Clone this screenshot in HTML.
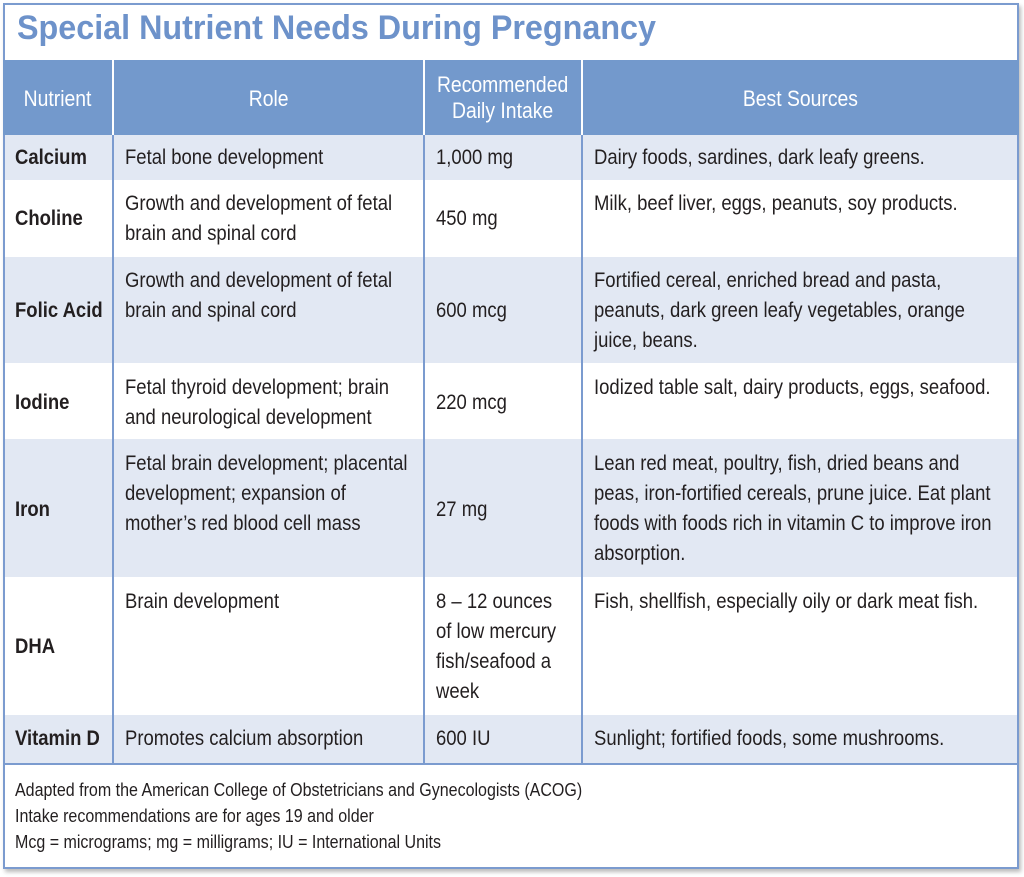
<!DOCTYPE html>
<html><head><meta charset="utf-8"><style>
body{margin:0;width:1024px;height:877px;background:#fff;position:relative;overflow:hidden;font-family:"Liberation Sans",sans-serif;color:#231f20}
.a{position:absolute;box-sizing:border-box}
.t{font-size:21px;line-height:30px;white-space:nowrap;transform:scaleX(0.88);transform-origin:left top}
.b{font-weight:bold}
.h{color:#fff;font-size:22px;line-height:26px;text-align:center;white-space:nowrap}
.h span{display:inline-block;transform:scaleX(0.88)}
</style></head><body>
<div class="a" style="left:3px;top:3px;width:1016px;height:866px;border:2px solid #7b9bcf;box-shadow:2px 3px 4px #bbb"></div>
<div class="a b" style="left:17px;top:9px;font-size:34px;color:#6d92ca;transform:scaleX(0.95);transform-origin:left;white-space:nowrap">Special Nutrient Needs During Pregnancy</div>
<div class="a" style="left:3px;top:60px;width:1016px;height:75px;background:#7399cc"></div>
<div class="a" style="left:3px;top:135px;width:1016px;height:45px;background:#e2e8f3"></div>
<div class="a" style="left:3px;top:257px;width:1016px;height:106px;background:#e2e8f3"></div>
<div class="a" style="left:3px;top:439px;width:1016px;height:138px;background:#e2e8f3"></div>
<div class="a" style="left:3px;top:715px;width:1016px;height:49px;background:#e2e8f3"></div>
<div class="a" style="left:3px;top:763px;width:1016px;height:2px;background:#7b9bcf"></div>
<div class="a" style="left:3px;top:135px;width:2px;height:630px;background:#7b9bcf"></div>
<div class="a" style="left:1017px;top:135px;width:2px;height:630px;background:#7b9bcf"></div>
<div class="a" style="left:112px;top:60px;width:2px;height:75px;background:#fff"></div>
<div class="a" style="left:423px;top:60px;width:2px;height:75px;background:#fff"></div>
<div class="a" style="left:581px;top:60px;width:2px;height:75px;background:#fff"></div>
<div class="a" style="left:112px;top:135px;width:2px;height:629px;background:#7b9bcf"></div>
<div class="a" style="left:423px;top:135px;width:2px;height:629px;background:#7b9bcf"></div>
<div class="a" style="left:581px;top:135px;width:2px;height:629px;background:#7b9bcf"></div>
<div class="a h" style="left:3px;top:86px;width:110px"><span>Nutrient</span></div>
<div class="a h" style="left:113px;top:86px;width:311px"><span>Role</span></div>
<div class="a h" style="left:424px;top:72px;width:158px"><span>Recommended<br>Daily Intake</span></div>
<div class="a h" style="left:582px;top:86px;width:437px"><span>Best Sources</span></div>

<div class="a t b" style="left:15px;top:143px">Calcium</div>
<div class="a t" style="left:125px;top:143px">Fetal bone development</div>
<div class="a t" style="left:436px;top:143px">1,000 mg</div>
<div class="a t" style="left:594px;top:143px">Dairy foods, sardines, dark leafy greens.</div>

<div class="a t b" style="left:15px;top:204px">Choline</div>
<div class="a t" style="left:125px;top:189px">Growth and development of fetal<br>brain and spinal cord</div>
<div class="a t" style="left:436px;top:204px">450 mg</div>
<div class="a t" style="left:594px;top:189px">Milk, beef liver, eggs, peanuts, soy products.</div>

<div class="a t b" style="left:15px;top:296px">Folic Acid</div>
<div class="a t" style="left:125px;top:266px">Growth and development of fetal<br>brain and spinal cord</div>
<div class="a t" style="left:436px;top:296px">600 mcg</div>
<div class="a t" style="left:594px;top:266px">Fortified cereal, enriched bread and pasta,<br>peanuts, dark green leafy vegetables, orange<br>juice, beans.</div>

<div class="a t b" style="left:15px;top:388px">Iodine</div>
<div class="a t" style="left:125px;top:373px">Fetal thyroid development; brain<br>and neurological development</div>
<div class="a t" style="left:436px;top:388px">220 mcg</div>
<div class="a t" style="left:594px;top:373px">Iodized table salt, dairy products, eggs, seafood.</div>

<div class="a t b" style="left:15px;top:495px">Iron</div>
<div class="a t" style="left:125px;top:449px">Fetal brain development; placental<br>development; expansion of<br>mother’s red blood cell mass</div>
<div class="a t" style="left:436px;top:495px">27 mg</div>
<div class="a t" style="left:594px;top:449px">Lean red meat, poultry, fish, dried beans and<br>peas, iron-fortified cereals, prune juice. Eat plant<br>foods with foods rich in vitamin C to improve iron<br>absorption.</div>

<div class="a t b" style="left:15px;top:632px">DHA</div>
<div class="a t" style="left:125px;top:587px">Brain development</div>
<div class="a t" style="left:436px;top:587px">8 – 12 ounces<br>of low mercury<br>fish/seafood a<br>week</div>
<div class="a t" style="left:594px;top:587px">Fish, shellfish, especially oily or dark meat fish.</div>

<div class="a t b" style="left:15px;top:724px">Vitamin D</div>
<div class="a t" style="left:125px;top:724px">Promotes calcium absorption</div>
<div class="a t" style="left:436px;top:724px">600 IU</div>
<div class="a t" style="left:594px;top:724px">Sunlight; fortified foods, some mushrooms.</div>

<div class="a" style="left:15px;top:777px;font-size:18px;line-height:26px;white-space:nowrap;transform:scaleX(0.89);transform-origin:left top">Adapted from the American College of Obstetricians and Gynecologists (ACOG)<br>Intake recommendations are for ages 19 and older<br>Mcg = micrograms; mg = milligrams; IU = International Units</div>
</body></html>
